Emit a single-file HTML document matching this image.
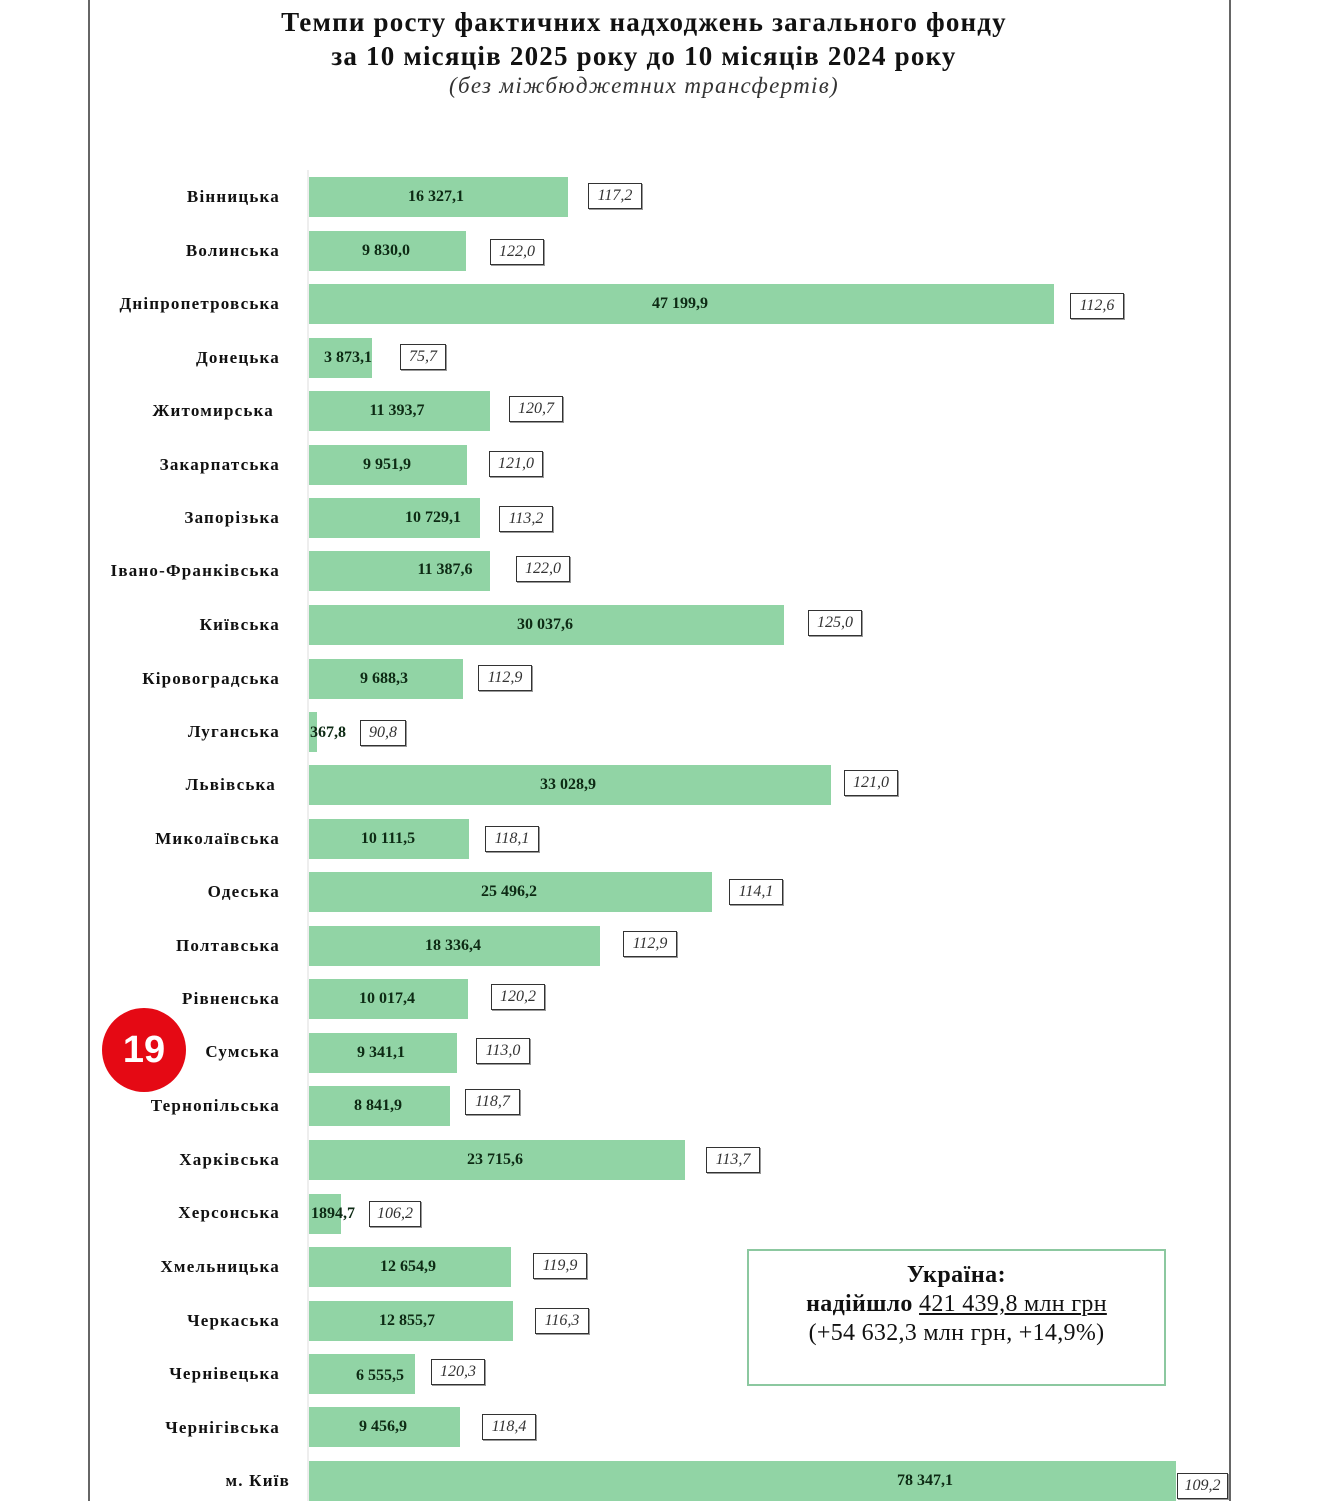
<!DOCTYPE html>
<html><head><meta charset="utf-8"><style>
body{margin:0;width:1328px;height:1501px;background:#fff;position:relative;overflow:hidden;font-family:"Liberation Serif","DejaVu Serif",serif;}
.a{position:absolute}
.lbl{position:absolute;right:1048px;font-weight:bold;font-size:17px;color:#111;white-space:nowrap;transform:translateY(-50%);letter-spacing:1.2px}
.bar{position:absolute;left:309px;height:40px;background:#91d4a5}
.v{position:absolute;font-weight:bold;font-size:16px;color:#0d2a14;white-space:nowrap;transform:translate(-50%,-50%)}
.b{position:absolute;height:24px;border:1.5px solid #333;box-shadow:1px 1px 0 #999;font-style:italic;font-size:16px;color:#333;text-align:center;line-height:24px;transform:translateY(-50%);background:#fff}
</style></head><body>
<div class="a" style="left:88px;top:0;width:2px;height:1501px;background:#666"></div>
<div class="a" style="left:1229px;top:0;width:2px;height:1501px;background:#666"></div>
<div class="a" style="width:1288px;left:0;top:5px;text-align:center;font-weight:bold;font-size:27px;letter-spacing:1.2px;line-height:34px;color:#111">Темпи росту фактичних надходжень загального фонду<br>за 10 місяців 2025 року до 10 місяців 2024 року</div>
<div class="a" style="width:1288px;top:73px;text-align:center;font-style:italic;font-size:23px;letter-spacing:1.3px;color:#333;left:0">(без міжбюджетних трансфертів)</div>
<div class="a" style="left:307px;top:170px;width:2px;height:1331px;background:#eee"></div>

<div class="lbl" style="top:197px">Вінницька</div><div class="bar" style="top:177px;width:259px"></div><div class="v" style="left:436px;top:197px">16 327,1</div><div class="b" style="left:588px;top:196px;width:52px">117,2</div>
<div class="lbl" style="top:251px">Волинська</div><div class="bar" style="top:231px;width:157px"></div><div class="v" style="left:386px;top:251px">9 830,0</div><div class="b" style="left:490px;top:252px;width:52px">122,0</div>
<div class="lbl" style="top:304px">Дніпропетровська</div><div class="bar" style="top:284px;width:745px"></div><div class="v" style="left:680px;top:304px">47 199,9</div><div class="b" style="left:1070px;top:306px;width:52px">112,6</div>
<div class="lbl" style="top:358px">Донецька</div><div class="bar" style="top:338px;width:63px"></div><div class="v" style="left:348px;top:358px">3 873,1</div><div class="b" style="left:400px;top:357px;width:44px">75,7</div>
<div class="lbl" style="top:411px;right:1054px">Житомирська</div><div class="bar" style="top:391px;width:181px"></div><div class="v" style="left:397px;top:411px">11 393,7</div><div class="b" style="left:509px;top:409px;width:52px">120,7</div>
<div class="lbl" style="top:465px">Закарпатська</div><div class="bar" style="top:445px;width:158px"></div><div class="v" style="left:387px;top:465px">9 951,9</div><div class="b" style="left:489px;top:464px;width:52px">121,0</div>
<div class="lbl" style="top:518px">Запорізька</div><div class="bar" style="top:498px;width:171px"></div><div class="v" style="left:433px;top:518px">10 729,1</div><div class="b" style="left:499px;top:519px;width:52px">113,2</div>
<div class="lbl" style="top:571px">Івано-Франківська</div><div class="bar" style="top:551px;width:181px"></div><div class="v" style="left:445px;top:570px">11 387,6</div><div class="b" style="left:516px;top:569px;width:52px">122,0</div>
<div class="lbl" style="top:625px">Київська</div><div class="bar" style="top:605px;width:475px"></div><div class="v" style="left:545px;top:625px">30 037,6</div><div class="b" style="left:808px;top:623px;width:52px">125,0</div>
<div class="lbl" style="top:679px">Кіровоградська</div><div class="bar" style="top:659px;width:154px"></div><div class="v" style="left:384px;top:679px">9 688,3</div><div class="b" style="left:478px;top:678px;width:52px">112,9</div>
<div class="lbl" style="top:732px">Луганська</div><div class="bar" style="top:712px;width:8px"></div><div class="v" style="left:328px;top:733px">367,8</div><div class="b" style="left:360px;top:733px;width:44px">90,8</div>
<div class="lbl" style="top:785px;right:1052px">Львівська</div><div class="bar" style="top:765px;width:522px"></div><div class="v" style="left:568px;top:785px">33 028,9</div><div class="b" style="left:844px;top:783px;width:52px">121,0</div>
<div class="lbl" style="top:839px">Миколаївська</div><div class="bar" style="top:819px;width:160px"></div><div class="v" style="left:388px;top:839px">10 111,5</div><div class="b" style="left:485px;top:839px;width:52px">118,1</div>
<div class="lbl" style="top:892px">Одеська</div><div class="bar" style="top:872px;width:403px"></div><div class="v" style="left:509px;top:892px">25 496,2</div><div class="b" style="left:729px;top:892px;width:52px">114,1</div>
<div class="lbl" style="top:946px">Полтавська</div><div class="bar" style="top:926px;width:291px"></div><div class="v" style="left:453px;top:946px">18 336,4</div><div class="b" style="left:623px;top:944px;width:52px">112,9</div>
<div class="lbl" style="top:999px">Рівненська</div><div class="bar" style="top:979px;width:159px"></div><div class="v" style="left:387px;top:999px">10 017,4</div><div class="b" style="left:491px;top:997px;width:52px">120,2</div>
<div class="lbl" style="top:1052px">Сумська</div><div class="bar" style="top:1033px;width:148px"></div><div class="v" style="left:381px;top:1053px">9 341,1</div><div class="b" style="left:476px;top:1051px;width:52px">113,0</div>
<div class="lbl" style="top:1106px">Тернопільська</div><div class="bar" style="top:1086px;width:141px"></div><div class="v" style="left:378px;top:1106px">8 841,9</div><div class="b" style="left:465px;top:1102px;width:53px">118,7</div>
<div class="lbl" style="top:1160px">Харківська</div><div class="bar" style="top:1140px;width:376px"></div><div class="v" style="left:495px;top:1160px">23 715,6</div><div class="b" style="left:706px;top:1160px;width:52px">113,7</div>
<div class="lbl" style="top:1213px">Херсонська</div><div class="bar" style="top:1194px;width:32px"></div><div class="v" style="left:333px;top:1214px">1894,7</div><div class="b" style="left:369px;top:1214px;width:50px">106,2</div>
<div class="lbl" style="top:1267px">Хмельницька</div><div class="bar" style="top:1247px;width:202px"></div><div class="v" style="left:408px;top:1267px">12 654,9</div><div class="b" style="left:533px;top:1266px;width:52px">119,9</div>
<div class="lbl" style="top:1321px">Черкаська</div><div class="bar" style="top:1301px;width:204px"></div><div class="v" style="left:407px;top:1321px">12 855,7</div><div class="b" style="left:535px;top:1321px;width:52px">116,3</div>
<div class="lbl" style="top:1374px">Чернівецька</div><div class="bar" style="top:1354px;width:106px"></div><div class="v" style="left:380px;top:1376px">6 555,5</div><div class="b" style="left:431px;top:1372px;width:52px">120,3</div>
<div class="lbl" style="top:1428px">Чернігівська</div><div class="bar" style="top:1407px;width:151px"></div><div class="v" style="left:383px;top:1427px">9 456,9</div><div class="b" style="left:482px;top:1427px;width:52px">118,4</div>
<div class="lbl" style="top:1481px;right:1038px">м. Київ</div><div class="bar" style="top:1461px;width:867px;height:40px"></div><div class="v" style="left:925px;top:1481px">78 347,1</div><div class="b" style="left:1177px;top:1486px;width:49px">109,2</div>

<div class="a" style="left:102px;top:1008px;width:84px;height:84px;border-radius:50%;background:#e50914"></div>
<div class="a" style="left:102px;top:1008px;width:84px;line-height:84px;text-align:center;color:#fff;font-family:'Liberation Sans',sans-serif;font-weight:bold;font-size:38px">19</div>

<div class="a" style="left:747px;top:1249px;width:415px;height:133px;border:2px solid #8cc8a0;background:#fff;text-align:center;font-size:24px;line-height:29px;color:#111">
<div style="margin-top:10px;font-weight:bold;letter-spacing:0.5px">Україна:</div>
<div style="letter-spacing:0.3px"><b>надійшло</b> <u>421 439,8 млн грн</u></div>
<div style="letter-spacing:0.3px">(+54 632,3 млн грн, +14,9%)</div>
</div>
</body></html>
